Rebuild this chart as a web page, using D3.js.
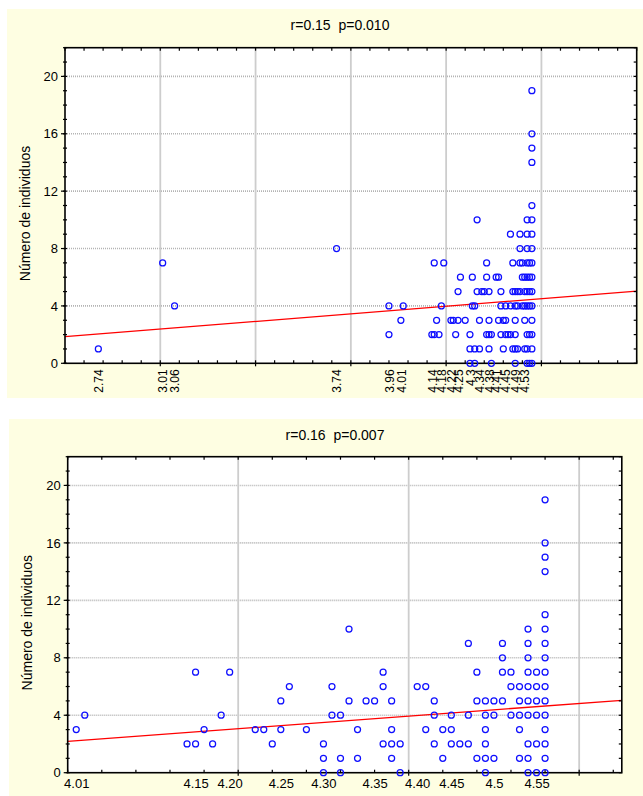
<!DOCTYPE html>
<html>
<head>
<meta charset="utf-8">
<script src="https://cdn.jsdelivr.net/npm/d3@7/dist/d3.min.js"></script>
<style>
  body { margin: 0; background: #ffffff; }
  svg text { font-family: Arial, "Liberation Sans", sans-serif; fill: #000; }
</style>
</head>
<body>
<svg id="chart" width="643" height="796"></svg>
<script>
// ---- data ---------------------------------------------------------------
// Sampling sites: x value of each column and the counts recorded there.
const siteX = [4.01, 4.02, 4.14, 4.15, 4.16, 4.17, 4.18, 4.19, 4.22, 4.23, 4.24, 4.25,
  4.26, 4.28, 4.30, 4.31, 4.32, 4.33, 4.34, 4.35, 4.36, 4.37, 4.38, 4.39, 4.41, 4.42,
  4.43, 4.44, 4.45, 4.46, 4.47, 4.48, 4.49, 4.50, 4.51, 4.52, 4.53, 4.54, 4.55, 4.56];
const siteCounts = [[3], [4], [2], [7, 2], [3], [2], [4], [7], [3], [3], [2], [5, 3],
  [6], [3], [2, 1, 0], [6, 4], [4, 1, 0], [10, 5], [3, 1], [5], [5], [7, 6, 2], [5, 3, 2, 1], [2, 0], [6], [6, 3],
  [5, 4, 2], [3, 1], [4, 3, 2], [2], [9, 4, 2], [7, 5, 1], [5, 4, 3, 2, 1, 0], [5, 4, 1], [9, 8, 7, 5], [7, 6, 4], [6, 5, 4, 3, 1],
  [10, 9, 8, 7, 6, 5, 4, 2, 1, 0], [7, 6, 5, 4, 2, 0],
  [19, 16, 15, 14, 11, 10, 9, 8, 7, 6, 5, 4, 3, 2, 1, 0]];

// Low-x sites that only appear in the full data set (upper panel)
const outlierX = [2.74, 3.01, 3.06, 3.74, 3.96, 3.96];
const outlierY = [1, 7, 4, 8, 4, 2];

// Fitted regression lines: count = intercept + slope * x
const fitTop = { intercept: -1.57, slope: 1.32 };
const fitBottom = { intercept: -15.42, slope: 4.4 };

// Titles and axis texts
const titleTop = "r=0.15  p=0.010";
const titleBottom = "r=0.16  p=0.007";
const yTitle = "Número de individuos";
const yTicks = [0, 4, 8, 12, 16, 20];

const topTickValues = [2.74, 3.01, 3.06, 3.74, 3.96, 4.01, 4.14, 4.18, 4.22, 4.25,
  4.3, 4.34, 4.38, 4.41, 4.45, 4.49, 4.53];
const topGrid = [3.0, 3.4, 3.8, 4.2, 4.6];

const bottomTickValues = [4.01, 4.15, 4.19, 4.25, 4.30, 4.36, 4.41, 4.45, 4.50, 4.55];
const bottomTickText = ["4.01", "4.15", "4.20", "4.25", "4.30", "4.35", "4.40", "4.45", "4.5", "4.55"];
const bottomGrid = [4.2, 4.4, 4.6];

// ---- flatten the site columns into points ---------------------------------
const sitePoints = [];
siteX.forEach((xv, i) => siteCounts[i].forEach(c => sitePoints.push({ x: xv, y: c })));
const outlierPoints = outlierX.map((xv, i) => ({ x: xv, y: outlierY[i] }));

const svg = d3.select("#chart");

function drawPanel(o) {
  const g = svg.append("g");

  g.append("rect")
    .attr("x", o.bg[0]).attr("y", o.bg[1])
    .attr("width", o.bg[2]).attr("height", o.bg[3])
    .attr("fill", "#fefee2");

  const x = d3.scaleLinear().domain(o.xDomain).range([o.left, o.right]);
  const y = d3.scaleLinear().domain([0, 22]).range([o.bottom, o.top]);

  g.append("rect")
    .attr("x", o.left).attr("y", o.top)
    .attr("width", o.right - o.left).attr("height", o.bottom - o.top)
    .attr("fill", "#ffffff");

  // horizontal grid (dotted grey)
  g.selectAll(".hgrid").data(yTicks.filter(d => d > 0)).join("line")
    .attr("x1", o.left).attr("x2", o.right)
    .attr("y1", d => y(d)).attr("y2", d => y(d))
    .attr("stroke", "#b4b4b4").attr("stroke-width", 1.6)
    .attr("stroke-dasharray", "1,1");

  // vertical grid (solid light grey)
  g.selectAll(".vgrid").data(o.grid).join("line")
    .attr("x1", d => x(d)).attr("x2", d => x(d))
    .attr("y1", o.top).attr("y2", o.bottom)
    .attr("stroke", "#cdcdcd").attr("stroke-width", 1.8);

  // regression line across the whole plot width
  const xd = x.domain();
  g.append("line")
    .attr("x1", x(xd[0])).attr("y1", y(o.fit.intercept + o.fit.slope * xd[0]))
    .attr("x2", x(xd[1])).attr("y2", y(o.fit.intercept + o.fit.slope * xd[1]))
    .attr("stroke", "#ff0000").attr("stroke-width", 1.3);

  // minor ticks on all four sides
  const xMinor = d3.range(xd[0], xd[1] + 1e-9, o.minorStep);
  const yMinor = d3.range(0, 22.001, 1);
  const tk = 3;
  g.selectAll(".tb").data(xMinor).join("line")
    .attr("x1", d => x(d)).attr("x2", d => x(d))
    .attr("y1", o.bottom).attr("y2", o.bottom - tk)
    .attr("stroke", "#000").attr("stroke-width", 1.2);
  g.selectAll(".tt").data(xMinor).join("line")
    .attr("x1", d => x(d)).attr("x2", d => x(d))
    .attr("y1", o.top).attr("y2", o.top + tk)
    .attr("stroke", "#000").attr("stroke-width", 1.2);
  g.selectAll(".tl").data(yMinor).join("line")
    .attr("x1", o.left - 2).attr("x2", o.left + 2)
    .attr("y1", d => y(d)).attr("y2", d => y(d))
    .attr("stroke", "#000").attr("stroke-width", 1.2);
  g.selectAll(".tr").data(yMinor).join("line")
    .attr("x1", o.right).attr("x2", o.right - tk)
    .attr("y1", d => y(d)).attr("y2", d => y(d))
    .attr("stroke", "#000").attr("stroke-width", 1.2);
  // outward marks at the grid positions
  g.selectAll(".gb").data(o.grid).join("line")
    .attr("x1", d => x(d)).attr("x2", d => x(d))
    .attr("y1", o.bottom).attr("y2", o.bottom + 3)
    .attr("stroke", "#000").attr("stroke-width", 1.2);
  g.selectAll(".gl").data(yTicks).join("line")
    .attr("x1", o.left - 4).attr("x2", o.left)
    .attr("y1", d => y(d)).attr("y2", d => y(d))
    .attr("stroke", "#000").attr("stroke-width", 1.2);

  // plot frame
  g.append("rect")
    .attr("x", o.left).attr("y", o.top)
    .attr("width", o.right - o.left).attr("height", o.bottom - o.top)
    .attr("fill", "none").attr("stroke", "#000").attr("stroke-width", 1.6);

  // data points
  g.selectAll(".pt").data(o.points).join("circle")
    .attr("cx", d => x(d.x)).attr("cy", d => y(d.y))
    .attr("r", 3)
    .attr("fill", "none").attr("stroke", "#0f0fff").attr("stroke-width", 1.25);

  // y axis labels
  const yAxis = d3.axisLeft(y).tickValues(yTicks).tickSize(0).tickPadding(7);
  const ya = g.append("g").attr("transform", `translate(${o.left},0)`).call(yAxis);
  ya.select(".domain").remove();
  ya.selectAll("text").attr("font-size", 13).style("font-family", "Arial, 'Liberation Sans', sans-serif");

  // x axis labels
  const xAxis = d3.axisBottom(x).tickValues(o.xTicks).tickSize(0)
    .tickFormat((d, i) => o.xText ? o.xText[i] : String(d));
  const xa = g.append("g").attr("transform", `translate(0,${o.bottom})`).call(xAxis);
  xa.select(".domain").remove();
  xa.selectAll("text").attr("font-size", o.xFont).style("font-family", "Arial, 'Liberation Sans', sans-serif");
  if (o.rotateX) {
    xa.selectAll("text")
      .attr("transform", "rotate(-90)")
      .attr("text-anchor", "end")
      .attr("x", -6).attr("y", 0).attr("dy", "0.35em");
  } else {
    xa.selectAll("text").attr("y", 6).attr("dy", "0.71em");
  }

  // title
  g.append("text")
    .attr("x", o.titleX).attr("y", o.titleY)
    .attr("text-anchor", "middle").attr("font-size", 14)
    .style("white-space", "pre")
    .text(o.title);

  // y axis title
  g.append("text")
    .attr("transform", `translate(${o.yTitleX},${(o.top + o.bottom) / 2 + 8}) rotate(-90)`)
    .attr("text-anchor", "middle").attr("font-size", 14)
    .text(yTitle);
}

drawPanel({
  bg: [7, 9, 636, 389],
  left: 65, right: 636.7, top: 47.7, bottom: 363.3,
  xDomain: [2.6, 5.0], minorStep: 0.08, grid: topGrid,
  fit: fitTop,
  points: outlierPoints.concat(sitePoints),
  xTicks: topTickValues, xText: null, rotateX: true, xFont: 12,
  title: titleTop, titleX: 340, titleY: 30, yTitleX: 30
});

drawPanel({
  bg: [9, 419, 634, 377],
  left: 67.7, right: 621.8, top: 456.7, bottom: 772.7,
  xDomain: [4.0, 4.65], minorStep: 0.04, grid: bottomGrid,
  fit: fitBottom,
  points: sitePoints,
  xTicks: bottomTickValues, xText: bottomTickText, rotateX: false, xFont: 13,
  title: titleBottom, titleX: 335, titleY: 440, yTitleX: 32
});
</script>
</body>
</html>
